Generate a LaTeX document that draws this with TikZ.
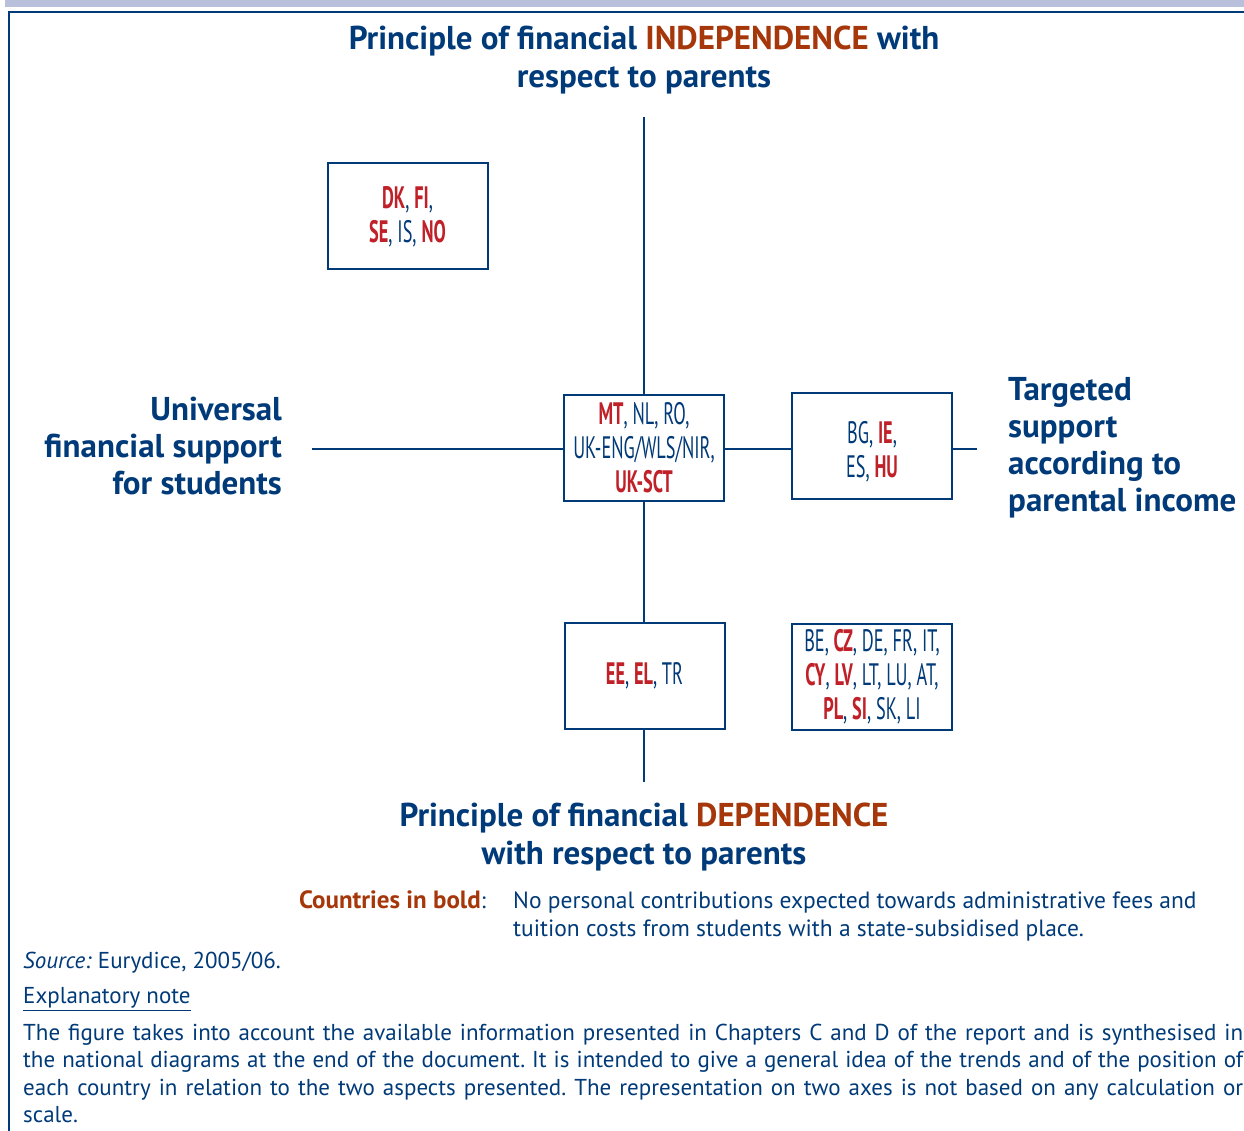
\documentclass[tikz,border=0pt]{standalone}
\usepackage{fontspec}
\setmainfont{PT Sans}
\newfontfamily\condfont[FakeStretch=0.59]{PT Sans}
\definecolor{eblue}{RGB}{0,58,120}
\definecolor{ered}{RGB}{192,32,40}
\definecolor{ebrown}{RGB}{165,55,10}
\definecolor{elav}{RGB}{184,192,220}
\newcommand{\rb}[1]{\textcolor{ered}{\bfseries #1}}
\newcommand{\br}[1]{\textcolor{ebrown}{#1}}
\tikzset{
  axis/.style={draw=eblue, line width=2pt},
  cbox/.style={draw=eblue, line width=2pt, fill=white, minimum width=160pt, minimum height=106pt,
    inner sep=0pt, align=center, text=eblue, font=\condfont\fontsize{31}{34}\selectfont},
  ctext/.style={inner sep=0pt, align=center, text=eblue, font=\condfont\fontsize{31}{34}\selectfont},
  ttl/.style={text=eblue, align=center, font=\bfseries\fontsize{33}{38}\selectfont, inner sep=0pt},
  side/.style={text=eblue, font=\bfseries\fontsize{33}{37}\selectfont, inner sep=0pt},
  body/.style={text=eblue, font=\frenchspacing\fontsize{23}{27.4}\selectfont, inner sep=0pt}
}
\begin{document}
\begin{tikzpicture}[x=1pt,y=-1pt]
\useasboundingbox (0,0) rectangle (1244,1131);
\fill[elav] (5,0) rectangle (1244,7);
\draw[eblue, line width=2pt] (9,1131) -- (9,12) -- (1244,12);

\coordinate (top) at (644,117);
\coordinate (bot) at (644,782);
\coordinate (lft) at (312,449);
\coordinate (rgt) at (977,449);
\draw[axis] (top) -- (bot);
\draw[axis] (lft) -- (rgt);

\node[cbox] (dk) at (407.5,216.5) {\rb{DK}, \rb{FI},\\\rb{SE}, IS, \rb{NO}};
\node[cbox] (mt) at (644,447.5) {\rb{MT}, NL, RO,\\UK-ENG/WLS/NIR,\\\rb{UK-SCT}};
\node[cbox] (bg) at (872,446) {};
\node[ctext] (bgt) at (872,452) {BG, \rb{IE},\\ES, \rb{HU}};
\node[cbox] (ee) at (644.5,676) {\rb{EE}, \rb{EL}, TR};
\node[cbox] (be) at (872,676.5) {BE, \rb{CZ}, DE, FR, IT,\\\rb{CY}, \rb{LV}, LT, LU, AT,\\\rb{PL}, \rb{SI}, SK, LI};

\node[ttl] (ttop) at (644,60) {Principle of financial \br{INDEPENDENCE} with\\respect to parents};
\node[ttl] (tbot) at (644,837) {Principle of financial \br{DEPENDENCE}\\with respect to parents};
\node[side, align=right, anchor=east] (tl) at (282,446) {Universal\\financial support\\for students};
\node[side, align=left, anchor=west] (tr) at (1008,448) {Targeted\\support\\according to\\parental income};

\node[body, anchor=east] (cib) at (486,900) {\textcolor{ebrown}{\bfseries\fontsize{25}{27}\selectfont Countries in bold}:};
\node[body, anchor=north west, align=left, font=\fontsize{23.5}{27.4}\selectfont] (cibt) at (513,892) {No personal contributions expected towards administrative fees and\\tuition costs from students with a state-subsidised place.};
\node[body, anchor=west] (src) at (23,963) {\textit{Source:} Eurydice, 2005/06.};
\node[body, anchor=west] (expl) at (23,999) {\underline{Explanatory note}};
\node[body, anchor=north west, text width=1220pt, align=justify] (para) at (23,1024) {The figure takes into account the available information presented in Chapters C and D of the report and is synthesised in\linebreak the national diagrams at the end of the document. It is intended to give a general idea of the trends and of the position of\linebreak each country in relation to the two aspects presented. The representation on two axes is not based on any calculation or\linebreak scale.};
\end{tikzpicture}
\end{document}
